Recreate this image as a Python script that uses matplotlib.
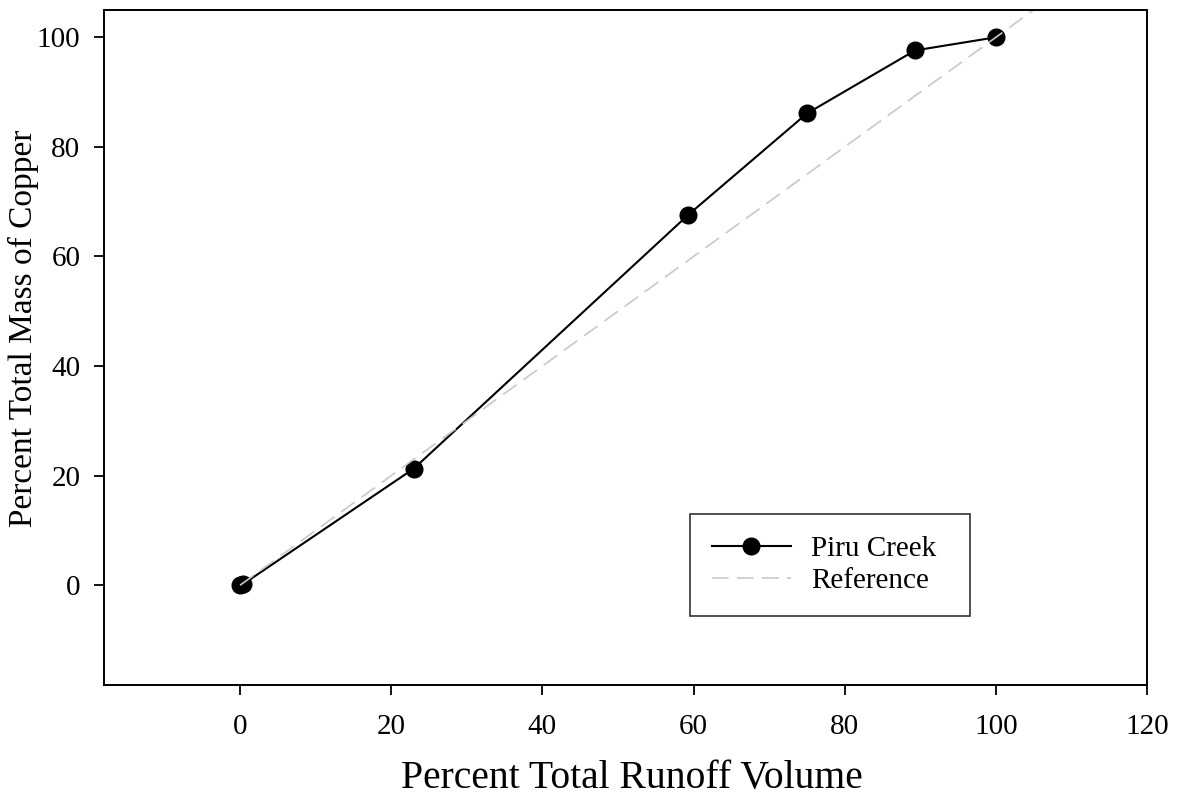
import matplotlib as mpl
mpl.use('Agg')
import matplotlib.pyplot as plt

# cumulative copper mass vs cumulative runoff volume, Piru Creek
runoff_pct = [0.0, 0.4, 23.0, 59.3, 75.0, 89.3, 100.0]
mass_pct = [0.0, 0.2, 21.3, 67.6, 86.1, 97.6, 100.0]

# 1:1 reference line
ref_x = [0, 120]
ref_y = [0, 120]

x_ticks = [0, 20, 40, 60, 80, 100, 120]
y_ticks = [0, 20, 40, 60, 80, 100]

plt.rcParams['font.family'] = ['Liberation Serif', 'DejaVu Serif']

fig = plt.figure(figsize=(11.84, 7.98), dpi=100)
ax = fig.add_axes([0.0878, 0.1416, 0.881, 0.846])

ax.plot(runoff_pct, mass_pct, color='black', lw=1.5, marker='o',
        markersize=12, label='Piru Creek')
ax.plot(ref_x, ref_y, color='#c8c8c8', lw=1.2, dashes=(10, 5),
        label='Reference')

ax.set_xlim(-18, 120)
ax.set_ylim(-18.2, 105)
ax.set_xticks(x_ticks)
ax.set_yticks(y_ticks)
ax.tick_params(axis='both', direction='out', length=7, width=1.3,
               labelsize=21, top=False, right=False)
ax.tick_params(axis='x', pad=14)
ax.tick_params(axis='y', pad=10)
for sp in ax.spines.values():
    sp.set_linewidth(1.4)

ax.set_xlabel('Percent Total Runoff Volume', fontsize=28.5)
ax.set_ylabel('Percent Total Mass of Copper', fontsize=24)
ax.xaxis.set_label_coords(0.506, -0.111)
ax.yaxis.set_label_coords(-0.062, 0.529)

leg = ax.legend(loc='lower left', bbox_to_anchor=(0.562, 0.102, 0.2685, 0.1526),
                mode='expand', fontsize=21, frameon=True, fancybox=False,
                edgecolor='black', handlelength=2.7, borderpad=0.75,
                labelspacing=0.2, handletextpad=0.7, borderaxespad=0)
leg.get_frame().set_linewidth(1.2)

plt.savefig('out.png', dpi=100)
plt.close()
